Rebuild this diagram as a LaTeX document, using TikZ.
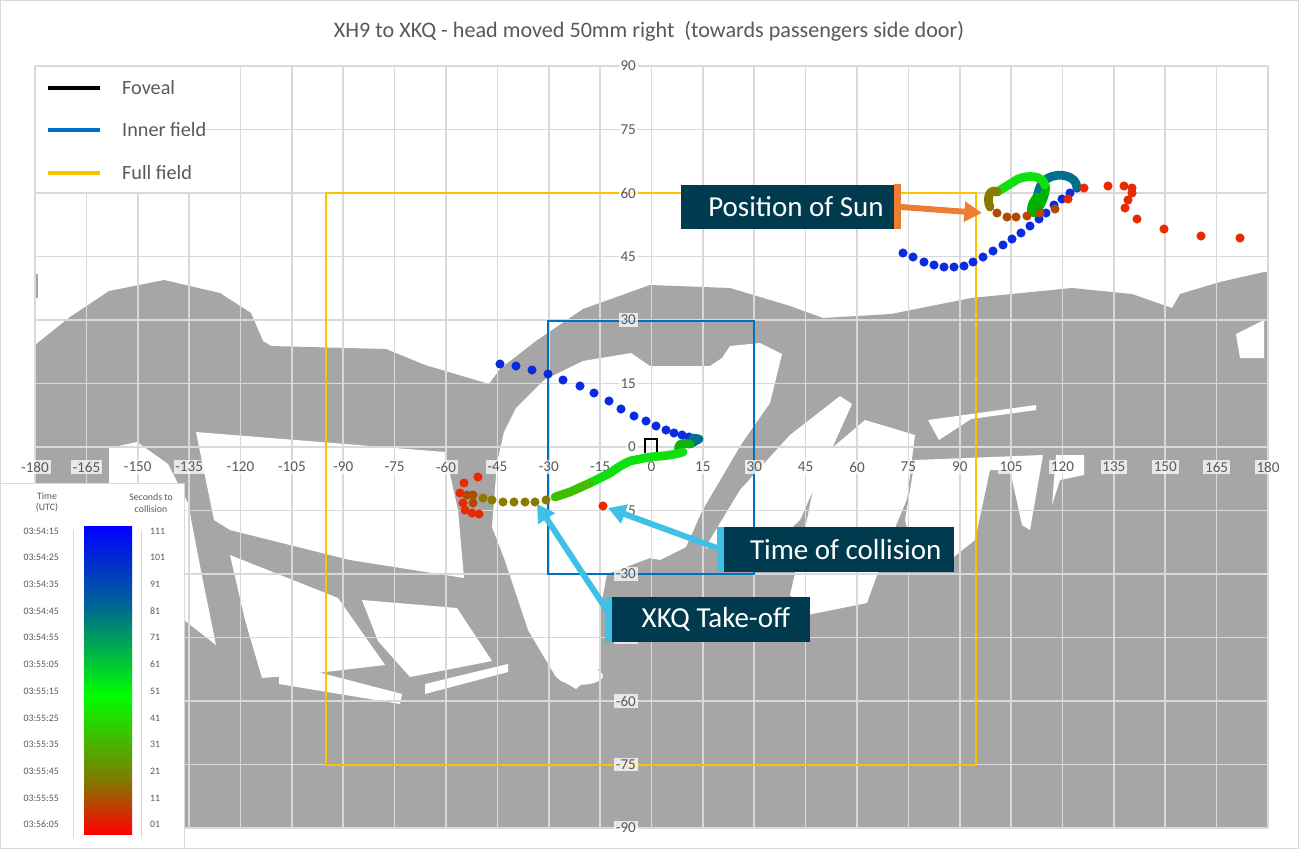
\documentclass[tikz,border=0pt]{standalone}
\usepackage{fontspec}
\setmainfont{Carlito}
\usetikzlibrary{arrows.meta}
\definecolor{sil}{HTML}{A6A6A6}
\definecolor{gridc}{HTML}{D9D9D9}
\definecolor{txt}{HTML}{595959}
\definecolor{fullf}{HTML}{FFC000}
\definecolor{innf}{HTML}{0070C0}
\definecolor{navy}{HTML}{003A4F}
\definecolor{cyanA}{HTML}{3FC1E6}
\definecolor{orgA}{HTML}{ED7D31}
\definecolor{dblue}{HTML}{0A2BE0}
\definecolor{dteal}{HTML}{00708C}
\definecolor{dgreen}{HTML}{10E010}
\definecolor{dolive}{HTML}{8A7A00}
\definecolor{dbrown}{HTML}{B04A00}
\definecolor{dred}{HTML}{E82A00}
\definecolor{cb1}{HTML}{0000FF}
\definecolor{cb2}{HTML}{006C8C}
\definecolor{cb3}{HTML}{00FF00}
\definecolor{cb4}{HTML}{807A00}
\definecolor{cb5}{HTML}{FF0000}
\tikzset{
  axl/.style={font=\fontsize{8.6}{10}\selectfont, text=txt, fill=white, fill opacity=0.75, text opacity=1, inner sep=1pt},
  leg/.style={font=\fontsize{11.5}{13}\selectfont, text=txt, anchor=west},
  sml/.style={font=\fontsize{5.6}{6.5}\selectfont, text=txt},
  note/.style={fill=navy, text=white, font=\fontsize{16.5}{19}\selectfont, inner sep=0pt, minimum height=25.5pt, anchor=west},
  trail/.style={draw=#1, line width=5pt, line cap=round, line join=round},
  arr/.style={line width=3.4pt, -{Triangle[length=10pt,width=11pt]}}
}
\begin{document}
\begin{tikzpicture}[x=0.02cm,y=-0.02cm]
\useasboundingbox (0,0) rectangle (1299,849);
\fill[white] (0,0) rectangle (1299,849);
% silhouette
\fill[sil] (35,345) -- (70,317) -- (109,291) -- (164,280) -- (220,293) -- (251,313) -- (263,341) -- (271,346) -- (386,349) -- (425,365) -- (489,384) -- (500,369) -- (536,341) -- (583,309) -- (650,285) -- (730,288) -- (790,306) -- (823,318) -- (891,314) -- (971,298) -- (1072,288) -- (1132,294) -- (1172,308) -- (1180,294) -- (1220,282) -- (1264,272) -- (1268,272) -- (1268,828) -- (35,828) -- cycle;
\fill[sil] (35,274) rectangle (38,298);
\fill[white] (497,463) -- (504,432) -- (516,408) -- (544,380) -- (583,361) -- (631,353) -- (650,366) -- (710,366) -- (722,358) -- (730,346) -- (760,343) -- (782,354) -- (770,403) -- (742,443) -- (702,511) -- (686,547) -- (660,560) -- (650,558) -- (607,574) -- (600,610) -- (599,669) -- (576,689) -- (556,677) -- (544,657) -- (528,630) -- (504,558) -- (492,527) -- cycle;
\fill[white] (196,432) -- (445,452) -- (458,510) -- (464,578) -- (350,560) -- (230,530) -- (214,520) -- cycle;
\fill[white] (109,448) -- (137,442) -- (168,464) -- (188,503) -- (200,566) -- (216,645) -- (184,620) -- (184,483) -- (109,483) -- cycle;
\fill[white] (230,555) -- (338,598) -- (385,665) -- (300,675) -- (262,678) -- (245,620) -- cycle;
\fill[white] (362,600) -- (457,608) -- (492,661) -- (410,677) -- (378,641) -- cycle;
\fill[white] (279,662) -- (402,694) -- (400,704) -- (279,684) -- cycle;
\fill[white] (425,684) -- (508,664) -- (508,672) -- (425,694) -- cycle;
\fill[white] (580,676) ellipse [x radius=13pt, y radius=5pt];
\fill[white] (705,548) -- (740,490) -- (790,435) -- (840,396) -- (852,404) -- (820,475) -- (800,520) -- (770,548) -- (740,552) -- cycle;
\fill[white] (819,459) -- (865,420) -- (915,435) -- (907,499) -- (887,547) -- (867,603) -- (807,615) -- (790,595) -- (805,530) -- cycle;
\fill[white] (928,420) -- (1036,405) -- (1036,410) -- (971,419) -- (939,440) -- cycle;
\fill[white] (915,460) -- (1043,455) -- (1030,530) -- (1022,525) -- (1010,470) -- (990,470) -- (975,540) -- (950,560) -- (915,560) -- (905,520) -- cycle;
\fill[white] (1056,455) -- (1084,455) -- (1084,475) -- (1060,480) -- (1052,505) -- cycle;
\fill[white] (1236,334) -- (1264,320) -- (1264,358) -- (1240,358) -- cycle;
% grid
\foreach \i in {0,...,24} \draw[gridc, line width=0.9pt] ({35+51.375*\i},66) -- ({35+51.375*\i},828);
\foreach \j in {0,...,12} \draw[gridc, line width=0.9pt] (35,{66+63.5*\j}) -- (1268,{66+63.5*\j});
% fields
\draw[fullf, line width=1.3pt] (326,193) rectangle (976,765);
\draw[innf, line width=1.1pt] (548,321) rectangle (754,574);
\draw[black, line width=1.2pt] (645,453) -- (645,439) -- (657,439) -- (657,453);
% axis labels
\foreach \i in {0,...,24} {\pgfmathtruncatemacro\v{-180+15*\i}
  \node[axl] (xl\i) at ({35+51.375*\i},467) {\v};}
\foreach \j in {0,...,12} {\pgfmathtruncatemacro\v{90-15*\j}
  \node[axl, anchor=east] (yl\j) at (638,{66+63.5*\j}) {\v};}
% trails lower
\foreach \x/\y in {500/364,516/366,532/370,548/374,563/380,580/386,594/393,609/401,621/409,634/416,646/421,656/426,666/430,674/433,682/435,689/437}
  \fill[dblue] (\x,\y) circle (2.6pt);
\draw[trail=dteal] (693,438) -- (699,439) -- (690,444);
\draw[trail=dgreen!80!black] (690,444) .. controls (680,442) and (676,446) .. (680,451);
\draw[trail=dgreen] (683,452) .. controls (670,456) and (660,456) .. (650,457) -- (630,461) .. controls (620,466) .. (610,473) -- (590,483);
\draw[trail=green!50!olive] (590,483) -- (570,492) -- (555,497);
\foreach \x/\y in {546/500,535/502,525/502,514/502,503/502,492/500,483/498}
  \fill[dolive] (\x,\y) circle (2.6pt);
\foreach \x/\y in {473/495,467/495,473/503}
  \fill[dbrown] (\x,\y) circle (2.6pt);
\foreach \x/\y in {460/493,463/503,465/510,472/513,479/514,464/483,478/477,603/506}
  \fill[dred] (\x,\y) circle (2.6pt);
% trails upper
\foreach \x/\y in {903/253,913/257,924/262,934/265,944/267,954/267,964/266,973/262,983/257,993/251,1003/245,1012/239,1021/233,1030/226,1039/219,1046/213,1054/205,1062/199,1070/193,1077/188}
  \fill[dblue] (\x,\y) circle (2.6pt);
\draw[trail=dteal] (1077,187) .. controls (1076,176) and (1060,172) .. (1048,178) .. controls (1040,185) .. (1037,197);
\draw[trail=green!70!black] (1037,197) .. controls (1030,205) and (1030,214) .. (1035,213) .. controls (1042,205) and (1047,190) .. (1045,185);
\draw[trail=dgreen] (1045,185) .. controls (1042,175) and (1028,175) .. (1018,179) .. controls (1007,185) .. (997,192);
\draw[trail=dolive] (997,192) .. controls (990,188) and (986,198) .. (990,207);
\foreach \x/\y in {997/213,1007/217,1016/217,1027/216,1040/213,1055/209}
  \fill[dbrown] (\x,\y) circle (2.6pt);
\foreach \x/\y in {1068/199,1084/188,1108/186,1124/186,1132/188,1132/193,1128/200,1125/208,1137/219,1164/229,1201/236,1240/238}
  \fill[dred] (\x,\y) circle (2.6pt);
% title
\node[font=\fontsize{12.6}{15}\selectfont, text=txt] (title) at (649,31) {XH9 to XKQ - head moved 50mm right \ (towards passengers side door)};
% legend
\fill[white] (36,67) rectangle (205,192);
\draw[black, line width=2.2pt] (48,88) -- (100,88);
\draw[innf, line width=2.2pt] (48,130) -- (100,130);
\draw[fullf, line width=2.2pt] (48,173) -- (100,173);
\node[leg] (l1) at (116,88) {Foveal};
\node[leg] (l2) at (116,130) {Inner field};
\node[leg] (l3) at (116,173) {Full field};
% colour bar legend
\fill[white] (0,483) rectangle (184,849);
\draw[gridc] (0,483) -- (184,483) -- (184,849);
\shade[top color=cb1, bottom color=cb2] (84,526) rectangle (132,611);
\shade[top color=cb2, bottom color=cb3] (84,610) rectangle (132,696);
\shade[top color=cb3, bottom color=cb4] (84,695) rectangle (132,781);
\shade[top color=cb4, bottom color=cb5] (84,780) rectangle (132,834);
\draw[gridc] (73,530) -- (73,838);
\draw[gridc] (141,530) -- (141,838);
\node[sml, align=center] (th) at (47,502) {Time\\(UTC)};
\node[sml, align=center] (sh) at (151,503) {Seconds to\\collision};
\foreach \t [count=\k from 0] in {03:54:15,03:54:25,03:54:35,03:54:45,03:54:55,03:55:05,03:55:15,03:55:25,03:55:35,03:55:45,03:55:55,03:56:05}
  \node[sml, anchor=east] (tl\k) at (65,{531+26.7*\k}) {\t};
\foreach \s [count=\k from 0] in {111,101,91,81,71,61,51,41,31,21,11,01}
  \node[sml, anchor=west] (sl\k) at (144,{531+26.7*\k}) {\s};
% annotations
\node[note, minimum width=216*0.567pt] (sun) at (681,207) {\hspace*{8pt}Position of Sun\hfill};
\fill[orgA] (894,184) rectangle (901,229);
\coordinate (sunT) at (982,213);
\draw[arr, orgA] (901,207) -- (sunT);
\node[note, minimum width=236*0.567pt] (toc) at (719,549.5) {\hspace*{10pt}Time of collision\hfill};
\fill[cyanA] (717,527) rectangle (724,572);
\coordinate (tocT) at (608,508);
\draw[arr, cyanA] (717,548) -- (tocT);
\node[note, minimum width=204*0.567pt] (xkq) at (606,619.5) {\hspace*{9pt}XKQ Take-off\hfill};
\fill[cyanA] (605,597) rectangle (612,642);
\coordinate (xkqT) at (537,504);
\draw[arr, cyanA] (608,612) -- (xkqT);
\draw[gridc] (0.5,0.5) rectangle (1298.5,848.5);
\end{tikzpicture}
\end{document}
